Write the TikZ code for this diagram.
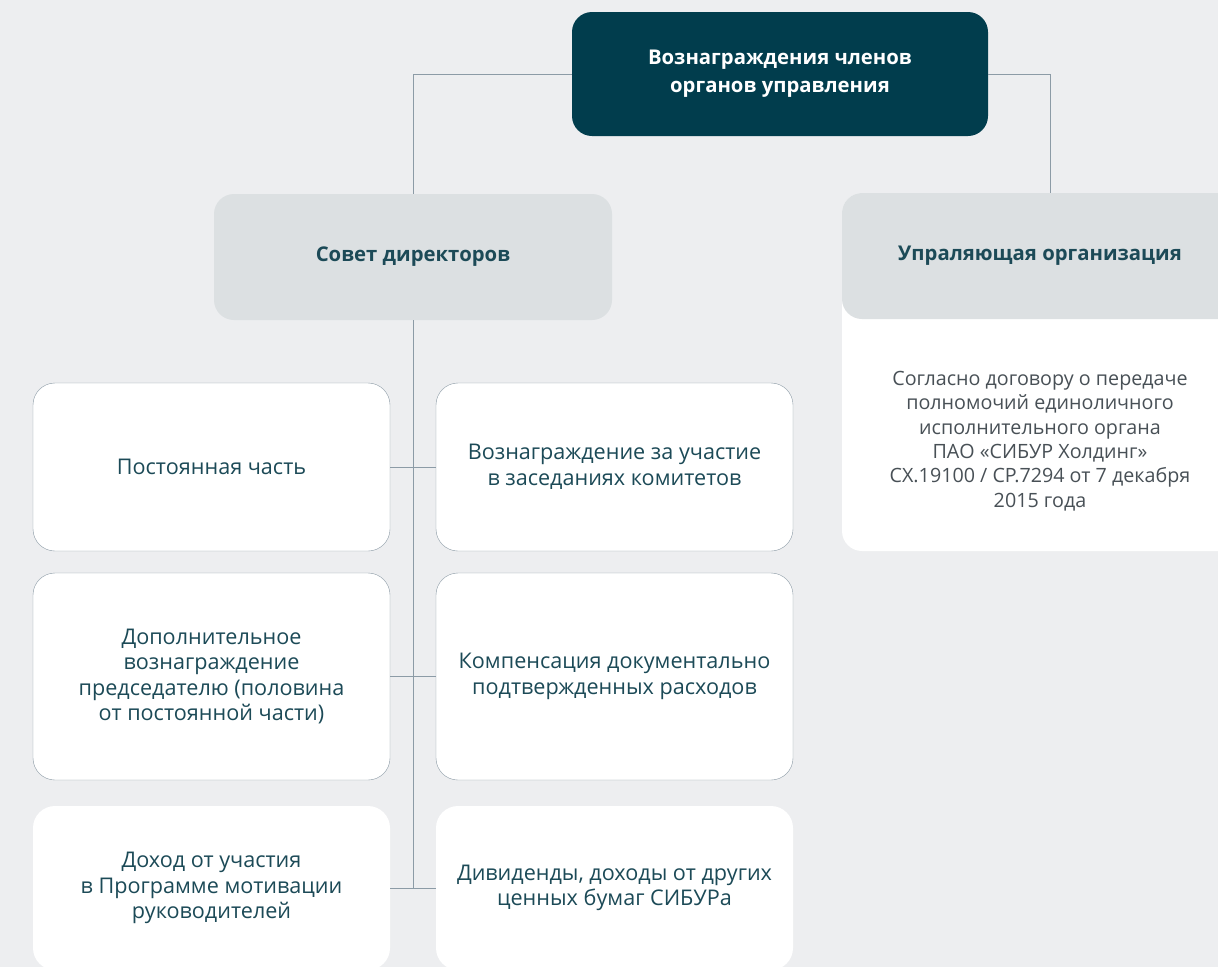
\documentclass[tikz,border=0pt]{standalone}
\usepackage{fontspec}
\setmainfont{Open Sans}
\usetikzlibrary{positioning, calc}
\definecolor{sibbg}{RGB}{237,238,240}
\definecolor{sibdark}{RGB}{1,61,77}
\definecolor{sibgray}{RGB}{220,224,226}
\definecolor{sibline}{RGB}{140,155,166}
\definecolor{sibtext}{RGB}{28,74,87}
\definecolor{sibbody}{RGB}{72,80,86}

\begin{document}
\begin{tikzpicture}[x=1pt, y=-1pt,
    rootbox/.style={fill=sibdark, rounded corners=20pt, minimum width=416pt, minimum height=124pt,
      text=white, align=center, font=\fontsize{20.3}{28}\selectfont\bfseries},
    headbox/.style={fill=sibgray, rounded corners=20pt, minimum height=126pt,
      text=sibtext, align=center, font=\fontsize{20.3}{24}\selectfont\bfseries},
    partbox/.style={draw=sibline, fill=white, rounded corners=22pt, minimum width=357pt,
      text=sibtext, align=center, font=\fontsize{21.6}{25.5}\selectfont},
    link/.style={draw=sibline, line width=0.9pt}]
  \useasboundingbox (0,0) rectangle (1218,967);
  \clip (0,0) rectangle (1218,967);
  \fill[sibbg] (0,0) rectangle (1218,967);
  % vershina
  \node[rootbox] (root) at (780,74) {Вознаграждения членов\\органов управления};
  % vtoroi uroven
  \node[headbox, minimum width=398pt] (board) at (413,257) {Совет директоров};
  \node[fill=white, rounded corners=20pt, minimum width=396pt, minimum height=358pt] (mgmtbody) at (1040,372) {};
  \node[headbox, minimum width=396pt, anchor=north] (mgmt) at (mgmtbody.north) {Упраляющая организация};
  \node[text=sibbody, align=center, font=\fontsize{19.7}{24.4}\selectfont] (contract) at (1040,441)
    {Согласно договору о передаче\\полномочий единоличного\\исполнительного органа\\ПАО «СИБУР Холдинг»\\СХ.19100 / СР.7294 от 7 декабря\\2015 года};
  % sostavlyayushchie
  \node[partbox, minimum height=168pt] (fixed) at (211.5,467) {Постоянная часть};
  \node[partbox, minimum height=168pt] (committee) at (614.5,467) {Вознаграждение за участие\\в заседаниях комитетов};
  \node[partbox, minimum height=207pt] (chair) at (211.5,676.5) {Дополнительное\\вознаграждение\\председателю (половина\\от постоянной части)};
  \node[partbox, minimum height=207pt] (expenses) at (614.5,676.5) {Компенсация документально\\подтвержденных расходов};
  \node[partbox, draw=none, minimum height=164pt] (program) at (211.5,888) {Доход от участия\\в Программе мотивации\\руководителей};
  \node[partbox, draw=none, minimum height=164pt] (dividends) at (614.5,888) {Дивиденды, доходы от других\\ценных бумаг СИБУРа};
  % linii
  \draw[link] (root.west) -| (board.north);
  \draw[link] (root.east) -| ([xshift=10pt]mgmt.north);
  \draw[link] (board.south) -- (board.south |- program.east);
  \draw[link] (fixed.east) -- (committee.west);
  \draw[link] (chair.east) -- (expenses.west);
  \draw[link] (program.east) -- (dividends.west);
\end{tikzpicture}
\end{document}
